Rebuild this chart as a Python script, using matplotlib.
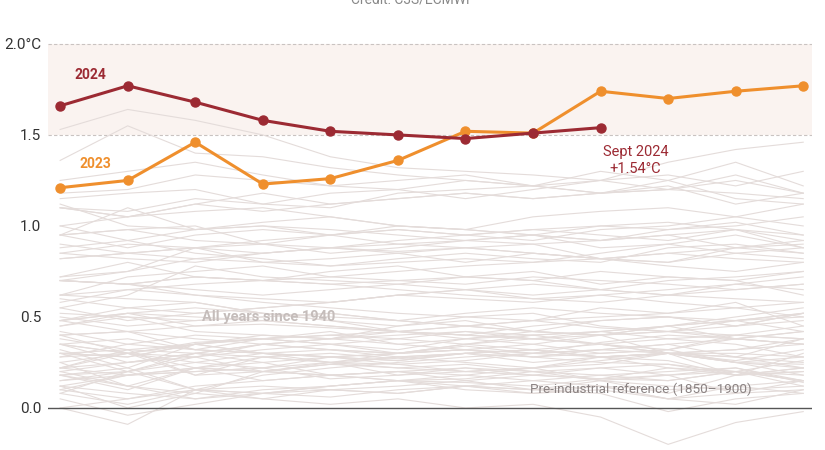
import matplotlib.pyplot as plt
import numpy as np

plt.rcParams["font.family"] = ["Roboto", "DejaVu Sans"]

months = ["Jan", "Feb", "Mar", "Apr", "May", "Jun",
          "Jul", "Aug", "Sep", "Oct", "Nov", "Dec"]

# monthly anomaly vs 1850-1900 (degC)
y2024 = [1.66, 1.77, 1.68, 1.58, 1.52, 1.50, 1.48, 1.51, 1.54]
y2023 = [1.21, 1.25, 1.46, 1.23, 1.26, 1.36, 1.52, 1.51, 1.74, 1.70, 1.74, 1.77]

# earlier years, 1940-2022, in hundredths of degC
past_years = list(range(1940, 2023))
past_hundredths = [
    [30, 28, 35, 40, 38, 42, 40, 45, 48, 50, 45, 52],
    [45, 50, 42, 40, 38, 45, 48, 42, 40, 45, 38, 35],
    [38, 32, 30, 28, 30, 27, 30, 32, 28, 30, 26, 32],
    [20, 25, 30, 35, 32, 30, 34, 30, 36, 40, 38, 42],
    [48, 52, 45, 46, 44, 42, 45, 48, 44, 42, 40, 38],
    [40, 30, 36, 38, 35, 32, 38, 42, 40, 30, 28, 22],
    [22, 18, 20, 22, 16, 18, 22, 20, 18, 15, 20, 12],
    [15, 20, 25, 22, 28, 24, 20, 22, 26, 30, 25, 18],
    [25, 12, 8, 20, 24, 22, 20, 18, 22, 24, 18, 20],
    [18, 10, 22, 20, 18, 15, 16, 20, 15, 18, 22, 14],
    [0, -9, 10, 8, 12, 15, 10, 8, 12, 5, 2, 10],
    [8, 2, 10, 18, 22, 25, 28, 30, 32, 35, 28, 38],
    [35, 30, 22, 28, 25, 24, 26, 30, 28, 22, 18, 20],
    [28, 35, 32, 38, 35, 30, 32, 28, 30, 32, 25, 28],
    [18, 22, 10, 12, 10, 8, 12, 15, 18, 20, 22, 15],
    [20, 12, 5, 8, 10, 12, 15, 10, 8, -2, 5, 8],
    [5, -4, 2, 8, 6, 10, 12, 8, 10, 5, 12, 15],
    [12, 18, 22, 25, 28, 30, 32, 35, 30, 32, 38, 35],
    [48, 42, 38, 35, 32, 30, 35, 32, 28, 30, 30, 28],
    [30, 28, 35, 30, 28, 30, 32, 28, 25, 24, 20, 26],
    [22, 32, 18, 20, 24, 28, 25, 22, 28, 26, 18, 30],
    [30, 32, 35, 30, 32, 28, 30, 28, 32, 30, 25, 22],
    [28, 30, 25, 30, 28, 26, 30, 32, 28, 30, 25, 24],
    [22, 30, 18, 28, 25, 30, 35, 38, 40, 42, 38, 35],
    [30, 20, 10, 5, 2, 5, 0, 2, -5, -20, -8, -2],
    [0, 5, 10, 8, 12, 15, 14, 12, 16, 18, 8, 15],
    [15, 18, 22, 15, 18, 20, 22, 18, 16, 15, 20, 18],
    [18, 12, 22, 20, 25, 18, 20, 22, 24, 30, 18, 22],
    [8, 20, 30, 25, 18, 20, 15, 18, 16, 22, 20, 15],
    [18, 20, 28, 35, 38, 35, 32, 30, 32, 35, 38, 42],
    [40, 42, 32, 30, 25, 22, 24, 20, 22, 18, 20, 15],
    [12, 8, 5, 10, 12, 15, 18, 15, 12, 10, 12, 8],
    [10, 18, 20, 22, 25, 28, 30, 32, 35, 38, 40, 45],
    [48, 52, 50, 48, 45, 42, 40, 38, 35, 30, 28, 25],
    [10, 5, 12, 15, 18, 20, 18, 22, 15, 12, 10, 12],
    [22, 25, 28, 20, 18, 15, 12, 10, 12, 5, 8, 10],
    [12, 0, 8, 5, 10, 8, 12, 10, 15, 8, 18, 22],
    [25, 30, 35, 38, 40, 38, 42, 40, 35, 32, 40, 38],
    [35, 38, 32, 30, 28, 26, 30, 25, 28, 30, 32, 35],
    [32, 22, 35, 38, 40, 42, 45, 48, 50, 52, 55, 58],
    [50, 45, 48, 50, 52, 48, 45, 42, 40, 45, 48, 42],
    [60, 55, 58, 52, 48, 45, 50, 52, 45, 42, 48, 52],
    [35, 30, 28, 32, 35, 38, 35, 40, 42, 45, 50, 55],
    [70, 68, 62, 58, 55, 52, 50, 48, 55, 52, 58, 45],
    [42, 35, 40, 38, 42, 35, 38, 40, 42, 38, 35, 28],
    [35, 25, 30, 35, 38, 40, 42, 38, 35, 30, 32, 38],
    [40, 42, 45, 48, 45, 42, 40, 38, 42, 45, 48, 50],
    [48, 55, 52, 55, 58, 62, 65, 68, 65, 62, 68, 72],
    [70, 68, 72, 70, 68, 65, 62, 60, 62, 58, 55, 50],
    [45, 52, 55, 52, 50, 48, 52, 55, 52, 50, 48, 52],
    [55, 62, 78, 72, 70, 68, 65, 62, 65, 70, 72, 75],
    [70, 68, 72, 70, 75, 78, 72, 70, 65, 62, 60, 58],
    [62, 60, 58, 52, 48, 42, 38, 35, 40, 42, 45, 48],
    [52, 50, 48, 50, 52, 48, 45, 42, 48, 50, 45, 52],
    [55, 48, 52, 55, 58, 62, 60, 58, 62, 65, 68, 65],
    [72, 80, 72, 70, 68, 70, 72, 75, 68, 72, 70, 62],
    [58, 65, 62, 60, 58, 62, 65, 60, 58, 62, 65, 68],
    [62, 65, 68, 70, 72, 75, 78, 80, 82, 85, 88, 90],
    [95, 110, 98, 100, 98, 95, 92, 90, 82, 78, 75, 80],
    [70, 68, 65, 62, 65, 68, 72, 70, 75, 72, 70, 75],
    [62, 72, 75, 78, 72, 70, 68, 72, 70, 68, 65, 68],
    [72, 75, 82, 80, 82, 85, 80, 85, 82, 80, 88, 85],
    [95, 98, 100, 90, 88, 85, 88, 85, 82, 80, 85, 82],
    [90, 85, 82, 85, 88, 86, 88, 90, 92, 95, 88, 92],
    [88, 92, 85, 82, 78, 80, 82, 80, 85, 90, 95, 88],
    [95, 88, 95, 98, 95, 100, 98, 95, 100, 98, 102, 95],
    [85, 90, 88, 85, 88, 90, 92, 95, 92, 98, 100, 105],
    [112, 100, 98, 100, 95, 90, 88, 85, 82, 85, 82, 80],
    [70, 75, 88, 80, 78, 82, 85, 82, 80, 88, 90, 85],
    [85, 82, 80, 85, 88, 92, 95, 98, 95, 92, 98, 95],
    [100, 105, 108, 110, 105, 100, 98, 95, 92, 95, 98, 88],
    [82, 85, 88, 90, 85, 88, 92, 95, 88, 90, 85, 88],
    [82, 85, 88, 92, 95, 98, 95, 98, 100, 102, 98, 92],
    [95, 98, 92, 90, 95, 98, 95, 92, 98, 100, 105, 100],
    [100, 92, 98, 102, 105, 100, 98, 105, 108, 110, 105, 112],
    [110, 108, 115, 112, 118, 120, 115, 120, 125, 135, 142, 146],
    [153, 164, 158, 150, 138, 132, 130, 128, 125, 120, 128, 118],
    [125, 130, 135, 128, 122, 120, 125, 122, 118, 120, 118, 115],
    [110, 105, 112, 118, 112, 115, 118, 115, 118, 122, 112, 118],
    [118, 120, 128, 125, 122, 125, 128, 122, 125, 128, 122, 130],
    [136, 155, 140, 138, 132, 128, 125, 122, 130, 125, 135, 122],
    [110, 105, 112, 108, 112, 115, 118, 115, 118, 120, 125, 118],
    [115, 118, 120, 112, 110, 118, 120, 122, 118, 125, 115, 112],
]

yticks = [0.0, 0.5, 1.0, 1.5, 2.0]
ytick_labels = ["0.0", "0.5", "1.0", "1.5", "2.0°C"]

RED = "#9c2a33"
ORANGE = "#ef8f2d"
GREY_LINE = "#e4dcda"

fig = plt.figure(figsize=(8.25, 4.5), dpi=100)
ax = fig.add_axes([48 / 825, 0, 764 / 825, 415 / 450])

x = np.arange(12)
ax.set_xlim(-0.18, 11.13)
ax.set_ylim(-0.231, 2.049)

# 1.5-2.0 band
ax.axhspan(1.5, 2.0, color="#faf3f0", zorder=0, lw=0)
for yv in (1.5, 2.0):
    ax.axhline(yv, color="#c9c3c1", lw=0.8, ls=(0, (3, 2)), zorder=1)
ax.axhline(0, color="#555555", lw=1.0, zorder=2)

past = np.array(past_hundredths) / 100.0
for row in past:
    ax.plot(x, row, color=GREY_LINE, lw=0.8, zorder=1.5)

ax.plot(x[:len(y2023)], y2023, color=ORANGE, lw=2.2, marker="o", ms=6.5,
        zorder=4, solid_capstyle="round")
ax.plot(x[:len(y2024)], y2024, color=RED, lw=2.2, marker="o", ms=6.5,
        zorder=5, solid_capstyle="round")

ax.text(0.21, 1.83, "2024", color=RED, fontsize=10, fontweight="bold",
        va="center", ha="left")
ax.text(0.29, 1.34, "2023", color=ORANGE, fontsize=10, fontweight="bold",
        va="center", ha="left")
ax.text(8.52, 1.36, "Sept 2024\n+1.54°C", color=RED, fontsize=10.5,
        ha="center", va="center", linespacing=1.25)
ax.text(3.08, 0.50, "All years since 1940", color="#c5bdbb", fontsize=10.5,
        fontweight="bold", ha="center", va="center")
ax.text(8.6, 0.10, "Pre-industrial reference (1850\u20131900)", color="#8a8282",
        fontsize=9.7, ha="center", va="center")

ax.set_yticks(yticks)
ax.set_yticklabels(ytick_labels)
ax.tick_params(axis="y", length=0, labelsize=11, labelcolor="#333333", pad=5)
ax.set_xticks([])
for s in ax.spines.values():
    s.set_visible(False)
ax.patch.set_visible(False)

# credit line sits partly off the top edge, as in the source image
fig.text(0.5, 1.0, "Credit: C3S/ECMWF", ha="center", va="center",
         color="#888888", fontsize=10)

fig.savefig("out.png", dpi=100)
